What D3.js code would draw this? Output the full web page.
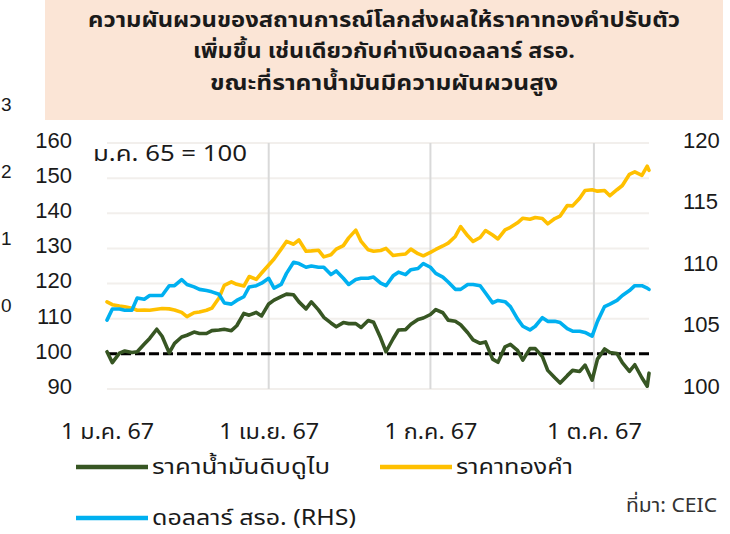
<!DOCTYPE html>
<html>
<head>
<meta charset="utf-8">
<script src="https://cdn.jsdelivr.net/npm/d3@7"></script>
<style>
  html, body { margin: 0; padding: 0; background: #ffffff; }
  svg { display: block; }
</style>
</head>
<body>
<div id="chart"></div>
<script>
// ---------------- DATA ----------------
const dates = [
  "2024-01-01","2024-01-04","2024-01-08","2024-01-11","2024-01-15","2024-01-18","2024-01-22","2024-01-25","2024-01-29",
  "2024-02-01","2024-02-05","2024-02-08","2024-02-12","2024-02-15","2024-02-19","2024-02-22","2024-02-26","2024-02-29",
  "2024-03-04","2024-03-07","2024-03-11","2024-03-14","2024-03-18","2024-03-21","2024-03-25","2024-03-28",
  "2024-04-01","2024-04-04","2024-04-08","2024-04-11","2024-04-15","2024-04-18","2024-04-22","2024-04-25","2024-04-29",
  "2024-05-02","2024-05-06","2024-05-09","2024-05-13","2024-05-16","2024-05-20","2024-05-23","2024-05-27","2024-05-30",
  "2024-06-03","2024-06-06","2024-06-10","2024-06-13","2024-06-17","2024-06-20","2024-06-24","2024-06-27",
  "2024-07-01","2024-07-04","2024-07-08","2024-07-11","2024-07-15","2024-07-18","2024-07-22","2024-07-25","2024-07-29",
  "2024-08-01","2024-08-05","2024-08-08","2024-08-12","2024-08-15","2024-08-19","2024-08-22","2024-08-26","2024-08-29",
  "2024-09-02","2024-09-05","2024-09-09","2024-09-12","2024-09-16","2024-09-19","2024-09-23","2024-09-26","2024-09-30",
  "2024-10-03","2024-10-07","2024-10-10","2024-10-14","2024-10-17","2024-10-21","2024-10-24","2024-10-28","2024-10-31",
  "2024-11-01"
];
// ราคาน้ำมันดิบดูไบ (index, LHS)
const oil = [
  100.6, 97.5, 100.2, 100.8, 100.4, 100.6, 102.8, 104.4, 107.0,
  105.0, 100.3, 103.0, 104.8, 105.3, 106.2, 105.8, 105.8, 106.6,
  106.8, 107.0, 106.6, 108.0, 111.5, 111.0, 111.8, 110.8,
  114.2, 115.3, 116.3, 117.0, 116.8, 114.8, 112.8, 114.8, 112.5,
  110.4, 108.8, 107.7, 108.9, 108.6, 108.6, 107.5, 109.5, 109.0,
  104.5, 100.6, 104.3, 106.8, 106.9, 108.4, 109.8, 110.2,
  111.2, 112.6, 111.7, 109.6, 109.3, 108.3, 106.0, 104.0, 103.0,
  103.4, 98.5, 97.6, 102.0, 102.7, 101.0, 98.2, 101.5, 101.5,
  99.2, 95.3, 93.2, 91.7, 93.8, 95.3, 95.0, 96.8, 92.5,
  98.5, 101.4, 100.4, 100.1, 97.5, 95.0, 96.9, 93.2, 90.8,
  94.5
];
// ราคาทองคำ (index, LHS)
const gold = [
  114.8, 114.0, 113.6, 113.4, 113.0, 112.4, 112.5, 112.4, 112.7,
  112.9, 112.8, 112.5, 111.8, 110.6, 111.7, 111.9, 112.4, 113.0,
  115.9, 119.5, 120.5, 119.8, 119.3, 122.0, 121.2, 123.0,
  125.3, 127.0, 129.8, 132.0, 131.2, 132.4, 129.2, 129.3, 129.5,
  127.6, 128.2, 129.8, 130.8, 133.0, 135.2, 132.0, 129.6, 129.2,
  129.4, 130.0, 128.0, 128.2, 128.4, 129.8, 128.5, 127.9,
  128.9, 129.7, 130.7, 131.5, 133.4, 136.2, 133.6, 132.0, 133.1,
  135.1, 133.8, 132.7, 135.3, 136.0, 137.3, 138.6, 138.3, 138.8,
  138.5, 137.0, 138.5, 139.2, 142.2, 142.1, 144.3, 146.5, 146.7,
  146.3, 146.5, 145.0, 146.7, 147.9, 151.1, 151.8, 150.8, 153.4,
  152.2
];
// ดอลลาร์ สรอ. (index, RHS)
const usd = [
  105.6, 106.5, 106.5, 106.4, 106.4, 107.4, 107.3, 107.6, 107.6,
  107.6, 108.4, 108.4, 108.9, 108.5, 108.3, 108.1, 108.0, 107.9,
  107.7, 107.0, 106.9, 107.2, 107.5, 108.3, 108.4, 108.6,
  109.0, 108.2, 108.5, 109.4, 110.3, 110.2, 109.9, 110.0, 109.9,
  109.9, 109.3, 109.6, 109.0, 108.5, 108.9, 109.0, 109.0, 109.1,
  108.6, 108.4, 109.2, 109.5, 109.3, 109.7, 109.8, 110.2,
  109.9, 109.4, 109.1, 108.7, 108.1, 108.1, 108.5, 108.5, 108.4,
  107.8, 107.0, 107.2, 107.1, 106.7, 105.7, 105.1, 104.8, 105.1,
  105.8, 105.5, 105.5, 105.4, 104.9, 104.7, 104.7, 104.6, 104.3,
  105.5, 106.7, 106.9, 107.2, 107.6, 108.0, 108.4, 108.4, 108.2,
  108.1
];
const baseLevel = 100;
const leftTicks = [90, 100, 110, 120, 130, 140, 150, 160];
const rightTicks = [100, 105, 110, 115, 120];
const xTickDates = ["2024-01-01", "2024-04-01", "2024-07-01", "2024-10-01"];
const xTickLabels = ["1 ม.ค. 67", "1 เม.ย. 67", "1 ก.ค. 67", "1 ต.ค. 67"];
const vGridDates = ["2024-04-01", "2024-07-01", "2024-10-01"];
const titleLines = [
  "ความผันผวนของสถานการณ์โลกส่งผลให้ราคาทองคำปรับตัว",
  "เพิ่มขึ้น เช่นเดียวกับค่าเงินดอลลาร์ สรอ.",
  "ขณะที่ราคาน้ำมันมีความผันผวนสูง"
];
const baseNote = "ม.ค. 65 = 100";
const seriesNames = ["ราคาน้ำมันดิบดูไบ", "ราคาทองคำ", "ดอลลาร์ สรอ. (RHS)"];
const sourceNote = "ที่มา: CEIC";
const strayLabels = ["3", "2", "1", "0"];

// ---------------- CHART ----------------
const W = 730, H = 534;
const colors = { oil: "#375623", gold: "#ffc000", usd: "#00b0f0" };
const numFont = "Tahoma, 'Liberation Sans', Arial, sans-serif";
const thaiFont = "Tahoma, 'Noto Sans Thai', 'Leelawadee UI', 'Liberation Sans', sans-serif";
const textColor = "#1a1a1a";

const svg = d3.select("#chart").append("svg").attr("width", W).attr("height", H);

const parse = d3.utcParse("%Y-%m-%d");
const x = d3.scaleUtc().domain([parse("2024-01-01"), parse("2024-11-01")]).range([107, 649]);
const yL = d3.scaleLinear().domain([90, 160]).range([389, 143]);
const yR = d3.scaleLinear().domain([100, 120]).range([389, 143]);

// helper to fit text width like the reference
function fit(sel, w) { return sel.attr("textLength", w).attr("lengthAdjust", "spacingAndGlyphs"); }

// Title box
svg.append("rect").attr("x", 45).attr("y", 0).attr("width", 678).attr("height", 120).attr("fill", "#fbe5d6");
const tY = [27, 58, 90];
const tW = [592, 382, 348];
titleLines.forEach((t, i) => {
  fit(svg.append("text").attr("x", 384).attr("y", tY[i]).attr("text-anchor", "middle")
    .attr("font-family", thaiFont).attr("font-size", 21).attr("font-weight", "bold")
    .attr("fill", textColor).text(t), tW[i]);
});

// stray labels from neighbouring chart (left edge)
const strayY = [104, 171, 238, 305];
strayLabels.forEach((t, i) => {
  svg.append("text").attr("x", 1).attr("y", strayY[i]).attr("dy", "0.35em").attr("text-anchor", "start")
    .attr("font-family", numFont).attr("font-size", 19).attr("fill", textColor).text(t);
});

// horizontal gridlines
svg.append("g").selectAll("line").data(leftTicks).join("line")
  .attr("x1", x.range()[0]).attr("x2", x.range()[1])
  .attr("y1", d => yL(d)).attr("y2", d => yL(d))
  .attr("stroke", "#f2efec").attr("stroke-width", 2);

// vertical gridlines
svg.append("g").selectAll("line").data(vGridDates).join("line")
  .attr("x1", d => x(parse(d))).attr("x2", d => x(parse(d)))
  .attr("y1", yL(160)).attr("y2", yL(90))
  .attr("stroke", "#d9d9d9").attr("stroke-width", 2);

// base line 100 dashed
svg.append("line")
  .attr("x1", x.range()[0]).attr("x2", x.range()[1])
  .attr("y1", yL(baseLevel)).attr("y2", yL(baseLevel))
  .attr("stroke", "#000").attr("stroke-width", 3).attr("stroke-dasharray", "10,4");

// axes
const axL = svg.append("g").attr("transform", `translate(${x.range()[0]},0)`)
  .call(d3.axisLeft(yL).tickValues(leftTicks).tickSize(0).tickPadding(35));
const axR = svg.append("g").attr("transform", `translate(${x.range()[1]},0)`)
  .call(d3.axisRight(yR).tickValues(rightTicks).tickSize(0).tickPadding(34));
const axB = svg.append("g").attr("transform", `translate(0,${yL(90)})`)
  .call(d3.axisBottom(x).tickValues(xTickDates.map(parse)).tickFormat((d, i) => xTickLabels[i]).tickSize(0).tickPadding(35));
[axL, axR, axB].forEach(a => {
  a.select(".domain").remove();
  a.selectAll("text").attr("font-family", numFont).attr("font-size", 22).attr("fill", textColor);
});
axB.selectAll("text").attr("font-family", thaiFont).attr("font-size", 21);
const xW = [93, 100, 93, 95];
axB.selectAll("text").each(function (d, i) { fit(d3.select(this), xW[i]); });
axL.selectAll("text").attr("dy", "0.2em");
axR.selectAll("text").attr("dy", "0.2em");

// note
fit(svg.append("text").attr("x", 93).attr("y", 154).attr("dy", "0.35em")
  .attr("font-family", thaiFont).attr("font-size", 21).attr("fill", textColor).text(baseNote), 154);

// lines
const series = [
  { vals: oil, y: yL, color: colors.oil },
  { vals: gold, y: yL, color: colors.gold },
  { vals: usd, y: yR, color: colors.usd }
];
series.forEach(s => {
  const line = d3.line().x((d, i) => x(parse(dates[i]))).y(d => s.y(d));
  svg.append("path").datum(s.vals).attr("d", line)
    .attr("fill", "none").attr("stroke", s.color).attr("stroke-width", 3.6)
    .attr("stroke-linejoin", "round").attr("stroke-linecap", "round");
});

// legend
const legend = [
  { name: seriesNames[0], color: colors.oil, x: 76, y: 467, w: 178 },
  { name: seriesNames[1], color: colors.gold, x: 380, y: 467, w: 117 },
  { name: seriesNames[2], color: colors.usd, x: 76, y: 518, w: 204 }
];
legend.forEach(l => {
  svg.append("line").attr("x1", l.x).attr("x2", l.x + 72).attr("y1", l.y).attr("y2", l.y)
    .attr("stroke", l.color).attr("stroke-width", 4.5);
  fit(svg.append("text").attr("x", l.x + 76).attr("y", l.y).attr("dy", "0.35em")
    .attr("font-family", thaiFont).attr("font-size", 21).attr("fill", textColor).text(l.name), l.w);
});

fit(svg.append("text").attr("x", 717).attr("y", 505).attr("dy", "0.35em").attr("text-anchor", "end")
  .attr("font-family", thaiFont).attr("font-size", 20).attr("fill", "#333").text(sourceNote), 91);
</script>
</body>
</html>
